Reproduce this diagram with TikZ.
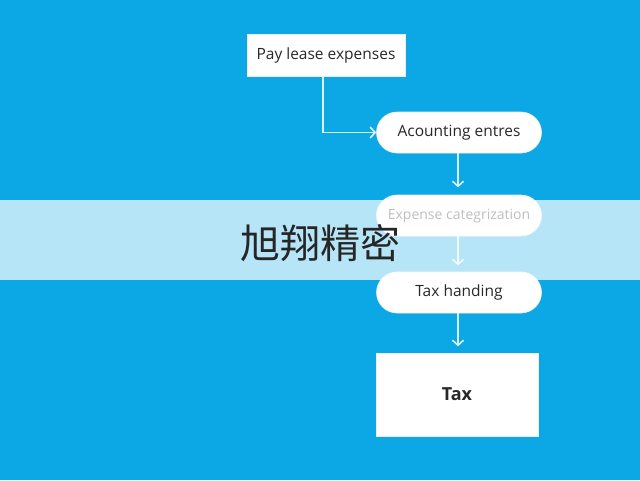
\documentclass[tikz,border=0pt]{standalone}
\usepackage{fontspec}
\setmainfont{Open Sans}
\newfontfamily\cjk{Noto Sans CJK SC}
\usetikzlibrary{arrows.meta}
\definecolor{bgblue}{RGB}{12,168,229}
\definecolor{txt}{RGB}{40,40,40}
\definecolor{linec}{RGB}{215,243,255}
\begin{document}
\begin{tikzpicture}[x=1pt,y=-1pt,
  sqbox/.style={draw=gray!15,line width=0.6pt,fill=white,text=txt,font=\fontsize{15.5}{18}\selectfont,inner sep=0pt},
  pill/.style={draw=gray!15,line width=0.6pt,fill=white,text=txt,rounded corners=20.5pt,minimum width=165pt,minimum height=41pt,font=\fontsize{15.5}{18}\selectfont,inner sep=0pt,text height=10pt,text depth=2pt},
  conn/.style={draw=linec,line width=1.6pt,-{Straight Barb[length=5pt,width=11pt,line width=1.6pt]}}]
\fill[bgblue] (0,0) rectangle (640,480);
\useasboundingbox (0,0) rectangle (640,480);
\node[sqbox,minimum width=158pt,minimum height=42pt,text height=10pt,text depth=2pt] (pay) at (326,55.5) {Pay lease expenses};
\node[pill] (acc) at (459,132.5) {Acounting entres};
\node[pill,font=\fontsize{14}{16}\selectfont] (exp) at (459,215.5) {Expense categrization};
\node[pill] (taxh) at (459,292.5) {Tax handing};
\node[sqbox,minimum width=162pt,minimum height=83pt,font=\fontsize{18}{20}\selectfont\bfseries] (tax) at (457,394.5) {Tax};
\draw[conn] ([xshift=-3pt]pay.south) |- (acc.west);
\draw[conn] ([xshift=-1pt]acc.south) -- ([xshift=-1pt,yshift=-34pt]acc.south);
\draw[conn] ([xshift=-1pt]exp.south) -- ([xshift=-1pt,yshift=-29pt]exp.south);
\draw[conn] ([xshift=-1pt]taxh.south) -- ([xshift=-1pt,yshift=-33pt]taxh.south);
\fill[white,opacity=0.7] (0,200) rectangle (640,280);
\node[font=\cjk\fontsize{40}{44}\selectfont,text=black!85] (wm) at (320,243) {旭翔精密};
\end{tikzpicture}
\end{document}
